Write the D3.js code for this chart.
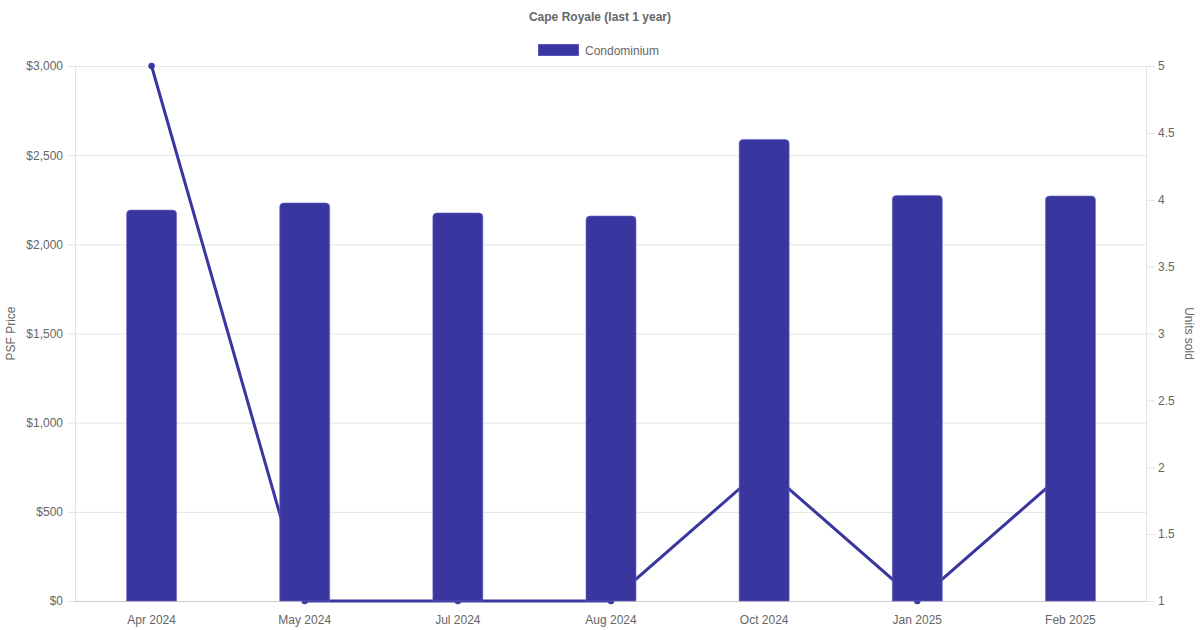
<!DOCTYPE html>
<html><head><meta charset="utf-8">
<script src="https://cdn.jsdelivr.net/npm/d3@7"></script>
<style>body{margin:0;background:#fff}svg{display:block;font-family:"Liberation Sans",Arial,sans-serif}</style>
</head><body><svg id="c" width="1200" height="630"></svg>
<script>
const categories = ["Apr 2024","May 2024","Jul 2024","Aug 2024","Oct 2024","Jan 2025","Feb 2025"];
const psfValues = [2192, 2232, 2176, 2159, 2588, 2274, 2271];
const unitsSold = [5, 1, 1, 1, 2, 1, 2];
const psfTicks = [0, 500, 1000, 1500, 2000, 2500, 3000];
const unitTicks = [1, 1.5, 2, 2.5, 3, 3.5, 4, 4.5, 5];

const svg = d3.select("#c");
const L = 75, R = 1147, T = 66, B = 601;
const color = "#3a36a0", txt = "#666";
const x = d3.scaleBand().domain(categories).range([L, R]);
const y = d3.scaleLinear().domain([0, 3000]).range([B, T]);
const y2 = d3.scaleLinear().domain([1, 5]).range([B, T]);

// title + legend
svg.append("text").attr("x", 600).attr("y", 21).attr("text-anchor", "middle")
  .attr("font-size", 12).attr("font-weight", "bold").attr("fill", txt).text("Cape Royale (last 1 year)");
svg.append("rect").attr("x", 538.5).attr("y", 44.5).attr("width", 40).attr("height", 11)
  .attr("fill", color).attr("stroke", "#5a57b8").attr("stroke-width", 1);
svg.append("text").attr("x", 585).attr("y", 55).attr("font-size", 12).attr("fill", txt).text("Condominium");

// left axis with grid
const ya = svg.append("g").attr("transform", `translate(${L},0)`)
  .call(d3.axisLeft(y).tickValues(psfTicks).tickSize(8).tickPadding(4).tickFormat(d => "$" + d3.format(",")(d)));
ya.select(".domain").remove();
ya.selectAll(".tick line").attr("stroke", "#e4e4e4").attr("x2", R - L).attr("x1", -8);
ya.selectAll(".tick text").attr("fill", txt).attr("font-size", 12).attr("font-family", "Liberation Sans, Arial, sans-serif");

// right axis
const yb = svg.append("g").attr("transform", `translate(${R},0)`)
  .call(d3.axisRight(y2).tickValues(unitTicks).tickSize(8).tickPadding(3).tickFormat(d3.format("")));
yb.select(".domain").remove();
yb.selectAll(".tick line").attr("stroke", "#e4e4e4");
yb.selectAll(".tick text").attr("fill", txt).attr("font-size", 12).attr("font-family", "Liberation Sans, Arial, sans-serif");

// axis borders
svg.append("line").attr("x1", L + 0.5).attr("x2", L + 0.5).attr("y1", T).attr("y2", B).attr("stroke", "#e4e4e4");
svg.append("line").attr("x1", R - 0.5).attr("x2", R - 0.5).attr("y1", T).attr("y2", B).attr("stroke", "#e4e4e4");

// bottom axis
const xa = svg.append("g").attr("transform", `translate(0,${B})`)
  .call(d3.axisBottom(x).tickSize(0).tickPadding(14));
xa.select(".domain").attr("stroke", "#ccc").attr("d", `M${L},0.5H${R}`);
xa.selectAll(".tick text").attr("fill", txt).attr("font-size", 12).attr("font-family", "Liberation Sans, Arial, sans-serif");

// axis titles
svg.append("text").attr("transform", `translate(15,${(T + B) / 2}) rotate(-90)`).attr("text-anchor", "middle")
  .attr("font-size", 12).attr("fill", txt).text("PSF Price");
svg.append("text").attr("transform", `translate(1185,${(T + B) / 2}) rotate(90)`).attr("text-anchor", "middle")
  .attr("font-size", 12).attr("fill", txt).text("Units sold");

// line (behind bars)
const cx = d => x(d) + x.bandwidth() / 2;
svg.append("path").datum(unitsSold)
  .attr("fill", "none").attr("stroke", color).attr("stroke-width", 3)
  .attr("d", d3.line().x((d, i) => cx(categories[i])).y(d => y2(d)));
svg.selectAll(".pt").data(unitsSold).enter().append("circle")
  .attr("cx", (d, i) => cx(categories[i])).attr("cy", d => y2(d)).attr("r", 3.2).attr("fill", color);

// bars with rounded tops
const bw = 50, r = 4;
svg.selectAll(".bar").data(psfValues).enter().append("path")
  .attr("fill", color).attr("stroke", "#6d6ac4").attr("stroke-width", 0.6)
  .attr("d", (d, i) => {
    const x0 = cx(categories[i]) - bw / 2, x1 = x0 + bw, yt = y(d), yb0 = B;
    return `M${x0},${yb0}V${yt + r}Q${x0},${yt} ${x0 + r},${yt}H${x1 - r}Q${x1},${yt} ${x1},${yt + r}V${yb0}Z`;
  });
</script></body></html>
